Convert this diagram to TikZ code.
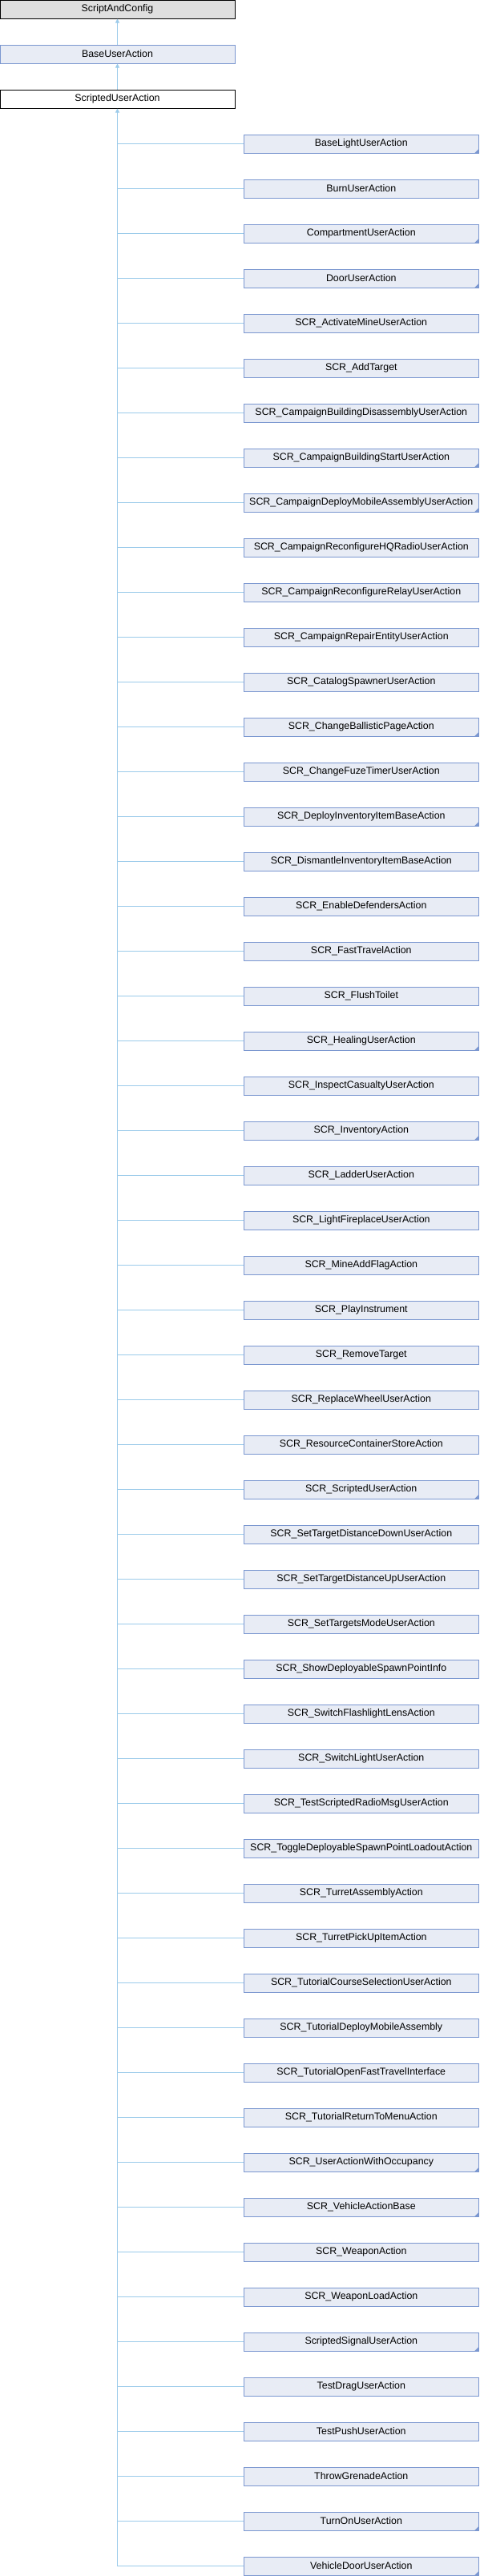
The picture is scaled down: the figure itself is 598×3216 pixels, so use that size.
\documentclass[tikz,border=0pt]{standalone}
\usepackage{fontspec}
\setmainfont{Liberation Sans}
\usepackage{tikz}
\usetikzlibrary{positioning,arrows.meta}

\definecolor{boxfill}{HTML}{E8ECF5}
\definecolor{boxline}{HTML}{7B97D0}
\definecolor{linkblue}{HTML}{9CCBEA}
\definecolor{rootgray}{HTML}{DFDFDF}

\tikzset{
  cls/.style={draw=boxline, fill=boxfill, line width=1pt,
              minimum width=293pt, minimum height=23pt, inner sep=0pt,
              font=\fontsize{12.4}{14}\selectfont},
  link/.style={draw=linkblue, line width=1pt},
  inherit/.style={link, -{Triangle[length=5pt,width=5pt,fill=linkblue]}}
}

\begin{document}
\begin{tikzpicture}[x=1pt,y=-1pt]

  \useasboundingbox (0,0) rectangle (598,3216);

  \node[cls, draw=black, fill=rootgray] (sac) at (146.5,11.5)  {ScriptAndConfig};
  \node[cls]                            (bua) at (146.5,67.5)  {BaseUserAction};
  \node[cls, draw=black, fill=white]    (sua) at (146.5,123.5) {ScriptedUserAction};

  \draw[inherit] (bua.north) -- (sac.south);
  \draw[inherit] (sua.north) -- (bua.south);

  % derived classes
  \foreach \name [count=\i] in {
      BaseLightUserAction, BurnUserAction, CompartmentUserAction, DoorUserAction,
      SCR\_ActivateMineUserAction, SCR\_AddTarget,
      SCR\_CampaignBuildingDisassemblyUserAction, SCR\_CampaignBuildingStartUserAction,
      SCR\_CampaignDeployMobileAssemblyUserAction, SCR\_CampaignReconfigureHQRadioUserAction,
      SCR\_CampaignReconfigureRelayUserAction, SCR\_CampaignRepairEntityUserAction,
      SCR\_CatalogSpawnerUserAction, SCR\_ChangeBallisticPageAction,
      SCR\_ChangeFuzeTimerUserAction, SCR\_DeployInventoryItemBaseAction,
      SCR\_DismantleInventoryItemBaseAction, SCR\_EnableDefendersAction,
      SCR\_FastTravelAction, SCR\_FlushToilet, SCR\_HealingUserAction,
      SCR\_InspectCasualtyUserAction, SCR\_InventoryAction, SCR\_LadderUserAction,
      SCR\_LightFireplaceUserAction, SCR\_MineAddFlagAction, SCR\_PlayInstrument,
      SCR\_RemoveTarget, SCR\_ReplaceWheelUserAction, SCR\_ResourceContainerStoreAction,
      SCR\_ScriptedUserAction, SCR\_SetTargetDistanceDownUserAction,
      SCR\_SetTargetDistanceUpUserAction, SCR\_SetTargetsModeUserAction,
      SCR\_ShowDeployableSpawnPointInfo, SCR\_SwitchFlashlightLensAction,
      SCR\_SwitchLightUserAction, SCR\_TestScriptedRadioMsgUserAction,
      SCR\_ToggleDeployableSpawnPointLoadoutAction, SCR\_TurretAssemblyAction,
      SCR\_TurretPickUpItemAction, SCR\_TutorialCourseSelectionUserAction,
      SCR\_TutorialDeployMobileAssembly, SCR\_TutorialOpenFastTravelInterface,
      SCR\_TutorialReturnToMenuAction, SCR\_UserActionWithOccupancy,
      SCR\_VehicleActionBase, SCR\_WeaponAction, SCR\_WeaponLoadAction,
      ScriptedSignalUserAction, TestDragUserAction, TestPushUserAction,
      ThrowGrenadeAction, TurnOnUserAction, VehicleDoorUserAction} {
    \node[cls] (c\i) at (450.8,{123.5+56*\i}) {\name};
    \draw[link] (c\i.west -| sua.south) -- (c\i.west);
  }

  % trunk
  \draw[inherit] (c55.west -| sua.south) -- (sua.south);

  % classes with further children
  \foreach \i in {1,3,4,8,9,14,16,21,23,31,46,47,50,54,55}
    \fill[boxline] (c\i.south east) -- ++(-6,0) -- ++(6,-6) -- cycle;

\end{tikzpicture}
\end{document}
